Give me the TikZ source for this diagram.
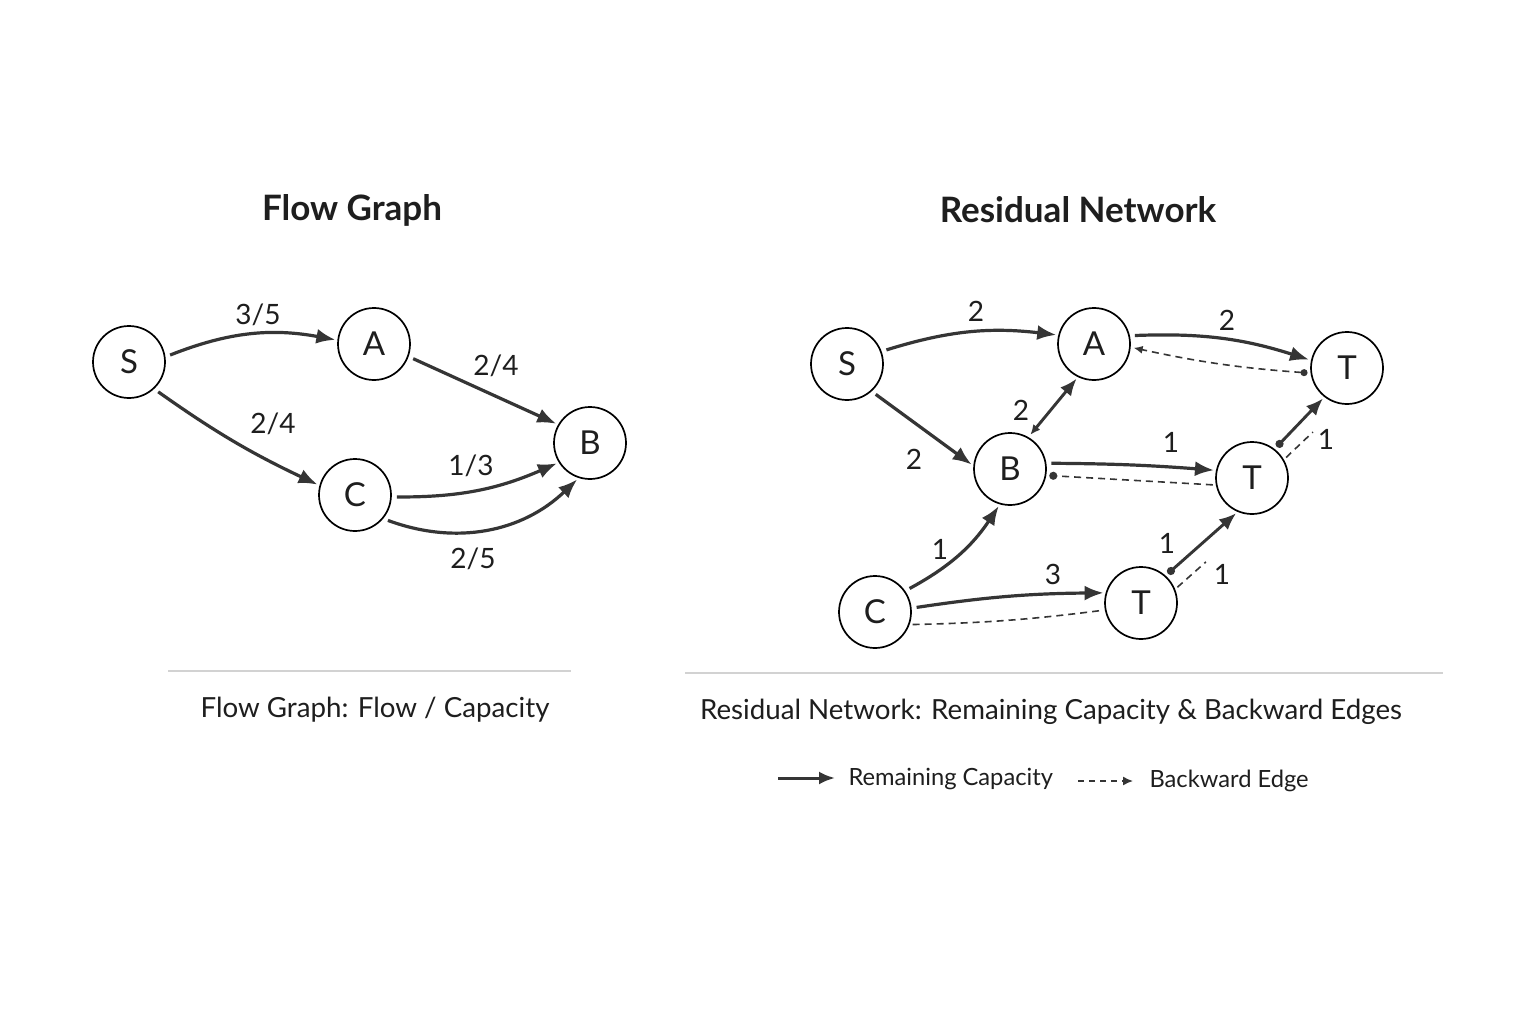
\documentclass[tikz,border=0pt]{standalone}
\usepackage{fontspec}
\setmainfont{Lato}
\usetikzlibrary{arrows.meta,positioning}
\definecolor{fgink}{HTML}{1E1E1E}
\definecolor{fgedge}{HTML}{353535}
\definecolor{fgrule}{HTML}{D2D2D2}

\begin{document}
\begin{tikzpicture}[x=1pt, y=1pt,
  v/.style={circle, draw=black, line width=1.7pt, minimum size=72pt, inner sep=0pt, text=fgink, font=\fontsize{33}{36}\selectfont},
  arr/.style={-{Latex[length=19pt, width=15pt]}, line width=3.2pt, fgedge, shorten <=5pt, shorten >=2pt},
  dbl/.style={{Latex[length=10pt, width=9pt]}-{Latex[length=17pt, width=14pt]}, line width=2.9pt, fgedge, shorten <=3pt, shorten >=2pt},
  dotarr/.style={{Circle[length=8pt]}-{Latex[length=17pt, width=14pt]}, line width=2.9pt, fgedge, shorten <=3pt, shorten >=2pt},
  bk/.style={dash pattern=on 7pt off 5pt, line width=1.6pt, fgedge, shorten <=3pt, shorten >=3pt},
  lbl/.style={text=fgink, font=\fontsize{28}{32}\selectfont},
  ttl/.style={text=fgink, font=\fontsize{35}{40}\selectfont\bfseries},
  capt/.style={text=fgink, font=\fontsize{27.7}{32}\selectfont},
  leg/.style={text=fgink, font=\fontsize{23.7}{28}\selectfont, anchor=west}
]
\useasboundingbox[fill=white] (0,0) rectangle (1536,-1024);

% flow graph
\node[ttl] (ftitle) at (352,-210) {Flow Graph};
\node[v] (fs) at (129,-362) {S};
\node[v] (fa) at (374,-344) {A};
\node[v] (fb) at (590,-443) {B};
\node[v] (fc) at (355,-495) {C};
\draw[arr] (fs.8) to[bend left=16] (fa.174);
\draw[arr] (fs.-47) to[bend right=5] (fc.165);
\draw[arr] (fa.-20) -- (fb.150);
\draw[arr] (fc.-3) to[bend right=12] (fb.212);
\draw[arr] (fc.-40) to[bend right=32] (fb.252);
\node[lbl] (l1) at (258,-315) {3/5};
\node[lbl] (l2) at (496,-366) {2/4};
\node[lbl] (l3) at (273,-424) {2/4};
\node[lbl] (l4) at (471,-466) {1/3};
\node[lbl] (l5) at (473,-559) {2/5};
\draw[fgrule, line width=2.4pt] (168,-671) -- (571,-671);
\node[capt] (fcap) at (375,-710) {Flow Graph: Flow / Capacity};

% residual network
\node[ttl] (rtitle) at (1078,-210) {Residual Network};
\node[v] (rs) at (847,-364) {S};
\node[v] (ra) at (1094,-344) {A};
\node[v] (rt1) at (1347,-368) {T};
\node[v] (rb) at (1010,-469) {B};
\node[v] (rt2) at (1252,-478) {T};
\node[v] (rc) at (875,-612) {C};
\node[v] (rt3) at (1141,-603) {T};
\draw[arr] (rs.20) to[bend left=12] (ra.166);
\draw[arr] (ra.13) to[bend left=10] (rt1.168);
\draw[bk, {Circle[length=7pt]}-{Latex[length=9pt, width=8pt]}] (rt1.188) to[bend left=4] (ra.-5);
\draw[dbl] (rb.60) -- (ra.244);
\draw[arr] (rs.-48) -- (rb.175);
\draw[arr] (rb.9) to[bend left=2] (rt2.168);
\draw[bk, -{Circle[length=8pt]}] (rt2.191) -- (rb.-10);
\draw[dotarr] (rt2.52) -- (rt1.232);
\draw[bk, shorten >=40pt] (rt2.30) -- (rt1.262);
\draw[arr] (rc.35) to[bend right=14] (rb.254);
\draw[arr] (rc.6) to[bend left=4] (rt3.164);
\draw[bk] (rc.-20) to[bend right=3] (rt3.191);
\draw[dotarr] (rt3.48) -- (rt2.247);
\draw[bk, shorten >=72pt] (rt3.22) -- (rt2.282);
\node[lbl] (r1) at (976,-311) {2};
\node[lbl] (r2) at (1227,-320) {2};
\node[lbl] (r3) at (1021,-410) {2};
\node[lbl] (r4) at (914,-459) {2};
\node[lbl] (r5) at (1171,-442) {1};
\node[lbl] (r6) at (1326,-439) {1};
\node[lbl] (r7) at (940,-549) {1};
\node[lbl] (r8) at (1053,-574) {3};
\node[lbl] (r9) at (1167,-543) {1};
\node[lbl] (r10) at (1222,-574) {1};
\draw[fgrule, line width=2.4pt] (685,-673) -- (1443,-673);
\node[capt] (rcap) at (1051,-712) {Residual Network: Remaining Capacity \& Backward Edges};

% legend
\coordinate (ka) at (778,-778);
\coordinate (kb) at (835,-778);
\coordinate (kc) at (1078,-781);
\coordinate (kd) at (1133,-781);
\draw[-{Latex[length=16pt, width=13pt]}, line width=3pt, fgedge] (ka) -- (kb);
\node[leg] (k1) at (845,-779) {Remaining Capacity};
\draw[dash pattern=on 6pt off 5pt, line width=1.5pt, fgedge, -{Latex[length=10pt, width=9pt]}] (kc) -- (kd);
\node[leg] (k2) at (1146,-781) {Backward Edge};
\end{tikzpicture}
\end{document}
